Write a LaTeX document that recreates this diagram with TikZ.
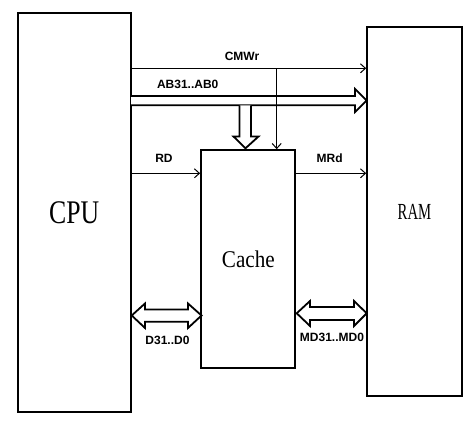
\documentclass[tikz,border=0pt]{standalone}
\usepackage{fontspec}
\setmainfont{Liberation Serif}
\newfontfamily\lblfont{Liberation Sans}
\usetikzlibrary{arrows.meta,calc}
\begin{document}
\begin{tikzpicture}[x=1pt,y=-1pt,
  box/.style={draw, line width=2pt, inner sep=0pt},
  sig/.style={line width=1pt, -{Straight Barb[length=5pt,width=9pt,line width=1pt]}},
  bus/.style={draw, line width=1.8pt, fill=white, line join=miter},
  lbl/.style={font=\lblfont\bfseries\fontsize{12}{12}\selectfont, inner sep=0pt}]
\useasboundingbox (0,0) rectangle (475,427);
\fill[white] (0,0) rectangle (475,427);
% boxes
\node[box, minimum width=112.7pt, minimum height=398.6pt,
  font=\fontsize{33}{33}\selectfont] (cpu) at (74.2,212.5) {\scalebox{0.78}[1]{CPU}};
\node[box, minimum width=94.6pt, minimum height=369pt,
  font=\fontsize{23}{23}\selectfont] (ram) at (414.5,211.7) {\scalebox{0.64}[1]{RAM}};
\node[box, minimum width=94.3pt, minimum height=218pt,
  font=\fontsize{24}{24}\selectfont] (cache) at (248.3,259.2) {\scalebox{0.88}[1]{Cache}};
% coordinates
\coordinate (cmwrL) at (cpu.east |- 0,68.3);
\coordinate (cmwrR) at (ram.west |- 0,68.3);
\coordinate (cmwrJ) at (276.7,68.3);
\coordinate (rdL) at (cpu.east |- 0,173.3);
\coordinate (rdR) at (cache.west |- 0,173.3);
\coordinate (mrdL) at (cache.east |- 0,173.3);
\coordinate (mrdR) at (ram.west |- 0,173.3);
% AB bus (hollow)
\path[bus] (131,96) -- (355,96) -- (355,89) -- (366.7,100.5) -- (355,112)
  -- (355,105.3) -- (131,105.3);
\path[bus] (239.5,105.3) -- (239.5,136.5) -- (233.5,136.5) -- (245.5,148.3)
  -- (258.5,136.5) -- (251,136.5) -- (251,105.3);
% CMWr
\draw[sig] (cmwrL) -- (cmwrR);
\draw[sig] (cmwrJ) -- (cmwrJ |- cache.north);
% RD, MRd
\draw[sig] (rdL) -- (rdR);
\draw[sig] (mrdL) -- (mrdR);
% D31..D0 bidirectional
\path[bus] (131.7,315.5) -- (145,303.5) -- (145,309.5) -- (188,309.5) -- (188,303.5)
  -- (201.5,315.5) -- (188,328) -- (188,321.7) -- (145,321.7) -- (145,328) -- cycle;
% MD31..MD0
\path[bus] (296.7,313.3) -- (310,301) -- (310,307) -- (354,307) -- (354,301)
  -- (366.7,313.3) -- (354,326) -- (354,320) -- (310,320) -- (310,326) -- cycle;
% labels
\node[lbl] (lcmwr) at (242,56) {CMWr};
\node[lbl] (lab) at (187.7,84.7) {AB31..AB0};
\node[lbl] (lrd) at (164,158) {RD};
\node[lbl] (lmrd) at (329.7,158) {MRd};
\node[lbl] (ld) at (167.5,340.7) {D31..D0};
\node[lbl] (lmd) at (332,337.7) {MD31..MD0};
\end{tikzpicture}
\end{document}
